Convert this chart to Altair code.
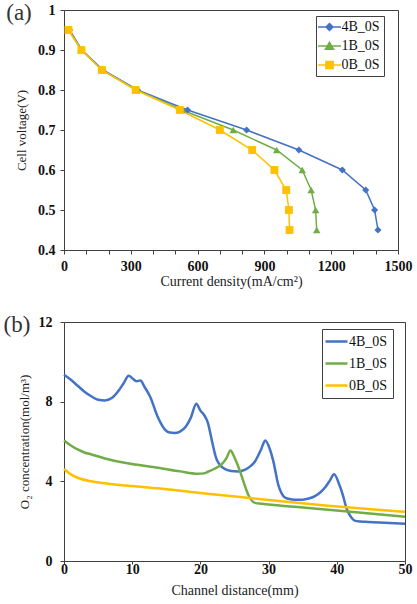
import altair as alt
import pandas as pd

# ---------------- data ----------------
series = ["4B_0S", "1B_0S", "0B_0S"]
colors = ["#4472C4", "#70AD47", "#FFC000"]
markers = ["diamond", "triangle-up", "square"]
marker_sizes = [50, 62, 55]

# panel (a): polarization curves
voltage = [0.95, 0.90, 0.85, 0.80, 0.75, 0.70, 0.65, 0.60, 0.55, 0.50, 0.45]
current_4b = [25, 80, 175, 330, 555, 820, 1055, 1250, 1355, 1395, 1410]
current_1b = [20, 78, 170, 325, 530, 760, 955, 1070, 1110, 1130, 1135]
current_0b = [20, 78, 170, 322, 520, 700, 845, 945, 998, 1010, 1013]

# panel (b): O2 concentration along the channel
dist_4b = [0, 1, 2, 3, 4, 5, 6, 7, 8, 8.7, 9.5, 10.1, 10.6, 11.2, 11.8, 12.6, 13.8,
           14.8, 15.5, 16.2, 17.0, 17.9, 18.6, 19.4, 20.0, 20.5, 21.1, 21.7, 22.3,
           23.3, 24.5, 25.5, 26.5, 27.3, 28.0, 28.9, 29.5, 30.2, 30.7, 31.4, 31.9,
           32.6, 33.8, 35.0, 36.0, 36.8, 37.6, 38.3, 39.0, 39.6, 40.4, 40.9, 41.4,
           42.0, 42.6, 43.5, 44.6, 47.0, 50.0]
conc_4b = [9.35, 9.1, 8.8, 8.5, 8.27, 8.1, 8.06, 8.18, 8.55, 8.9, 9.3, 9.15, 9.03,
           9.06, 8.75, 8.27, 7.19, 6.6, 6.45, 6.43, 6.5, 6.77, 7.2, 7.9, 7.55, 7.35,
           6.94, 6.02, 5.18, 4.68, 4.52, 4.5, 4.58, 4.75, 5.0, 5.6, 6.05, 5.6, 5.0,
           3.85, 3.4, 3.15, 3.08, 3.08, 3.15, 3.26, 3.45, 3.7, 4.05, 4.35, 3.8, 3.3,
           2.67, 2.25, 2.03, 1.98, 1.96, 1.92, 1.87]
dist_1b = [0, 1, 2, 3, 4, 6, 8.9, 11, 13.8, 17, 19.6, 20.5, 21.1, 22.0, 23.1, 23.8,
           24.4, 25.0, 25.8, 26.4, 27.0, 27.5, 28.0, 29.0, 33.8, 41.2, 50.0]
conc_1b = [6.05, 5.8, 5.6, 5.45, 5.35, 5.15, 4.93, 4.82, 4.68, 4.5, 4.38, 4.4, 4.48,
           4.62, 4.85, 5.15, 5.55, 5.2, 4.51, 3.9, 3.34, 3.05, 2.92, 2.87, 2.72, 2.5,
           2.22]
dist_0b = [0, 1, 2, 4, 6.5, 10, 13.8, 19, 24, 30, 38.7, 45, 50]
conc_0b = [4.62, 4.35, 4.18, 4.0, 3.88, 3.76, 3.65, 3.45, 3.28, 3.06, 2.78, 2.6, 2.47]

# ---------------- tables ----------------
rows_a = []
for name, cur in zip(series, [current_4b, current_1b, current_0b]):
    for c, v in zip(cur, voltage):
        rows_a.append({"series": name, "current": c, "voltage": v})
df_a = pd.DataFrame(rows_a)

rows_b = []
for name, ds, cs in zip(series, [dist_4b, dist_1b, dist_0b], [conc_4b, conc_1b, conc_0b]):
    for d, c in zip(ds, cs):
        rows_b.append({"series": name, "distance": d, "conc": c})
df_b = pd.DataFrame(rows_b)

TEXT_FONT = "Liberation Serif"
FRAME = "#404040"

# legend symbols for (a): line segment + marker
legend_paths = [
    "M-1.917,0H1.917M0,-0.58L0.58,0L0,0.58L-0.58,0Z",
    "M-1.917,0H1.917M0,-0.62L0.68,0.55L-0.68,0.55Z",
    "M-1.917,0H1.917M-0.6,-0.6H0.6V0.6H-0.6Z",
]
shape_expr = (f"datum.value === '{series[0]}' ? '{legend_paths[0]}' : "
              f"datum.value === '{series[1]}' ? '{legend_paths[1]}' : '{legend_paths[2]}'")
fill_expr = (f"datum.value === '{series[0]}' ? '{colors[0]}' : "
             f"datum.value === '{series[1]}' ? '{colors[1]}' : '{colors[2]}'")

legend_a = alt.Legend(
    title=None, orient="none", legendX=252, legendY=6, direction="vertical",
    strokeColor=FRAME, fillColor="white", padding=4,
    labelFont=TEXT_FONT, labelFontSize=14, labelColor="#111", labelOffset=5,
    symbolSize=144, symbolOffset=2.5, symbolStrokeWidth=1.5, rowPadding=5,
    symbolType=alt.ExprRef(expr=shape_expr),
    symbolFillColor=alt.ExprRef(expr=fill_expr),
)

x_a = alt.X("current:Q", scale=alt.Scale(domain=[0, 1500], nice=False, zero=False),
            axis=alt.Axis(values=list(range(0, 1501, 100)), format="d",
                          labelExpr="datum.value % 300 === 0 ? datum.label : ''",
                          title="Current density(mA/cm²)", labelPadding=5,
                          titlePadding=1))
y_a = alt.Y("voltage:Q", scale=alt.Scale(domain=[0.4, 1.0], nice=False, zero=False),
            axis=alt.Axis(values=[0.4, 0.5, 0.6, 0.7, 0.8, 0.9, 1.0], format="~g",
                          title="Cell voltage(V)", labelPadding=5, titlePadding=9,
                          titleFontSize=13))

lines_a = alt.Chart(df_a).mark_line(strokeWidth=1.5).encode(
    x=x_a, y=y_a,
    color=alt.Color("series:N", scale=alt.Scale(domain=series, range=colors),
                    legend=legend_a, sort=series),
)
points_a = alt.Chart(df_a).mark_point(filled=True, opacity=1, strokeWidth=0).encode(
    x=x_a, y=y_a,
    fill=alt.Fill("series:N", scale=alt.Scale(domain=series, range=colors), legend=None),
    shape=alt.Shape("series:N", scale=alt.Scale(domain=series, range=markers), legend=None),
    size=alt.Size("series:N", scale=alt.Scale(domain=series, range=marker_sizes), legend=None),
)
label_a = alt.Chart(pd.DataFrame({"t": ["(a)"]})).mark_text(
    font=TEXT_FONT, fontSize=23, align="center", baseline="middle", color="#333"
).encode(x=alt.value(-45), y=alt.value(3), text="t:N")

panel_a = alt.layer(lines_a, points_a, label_a).properties(width=334, height=240)

# ---------------- panel (b) ----------------
legend_b = alt.Legend(
    title=None, orient="none", legendX=258, legendY=7, direction="vertical",
    strokeColor=FRAME, fillColor="white", padding=5,
    labelFont=TEXT_FONT, labelFontSize=14, labelColor="#111", labelOffset=5,
    symbolType="M-1.833,0H1.833", symbolSize=144, symbolOffset=2,
    symbolStrokeWidth=2.5, rowPadding=7,
)
x_b = alt.X("distance:Q", scale=alt.Scale(domain=[0, 50], nice=False, zero=False),
            axis=alt.Axis(values=[0, 10, 20, 30, 40, 50], title="Channel distance(mm)",
                          tickSize=3, labelPadding=-2, titlePadding=7))
y_b = alt.Y("conc:Q", scale=alt.Scale(domain=[0, 12], nice=False, zero=False),
            axis=alt.Axis(values=[0, 4, 8, 12], title="O₂ concentration(mol/m³)",
                          labelPadding=8, titlePadding=6.5, titleFontSize=13))
lines_b = alt.Chart(df_b).mark_line(strokeWidth=2.5, interpolate="monotone").encode(
    x=x_b, y=y_b,
    color=alt.Color("series:N", scale=alt.Scale(domain=series, range=colors),
                    legend=legend_b, sort=series),
)
label_b = alt.Chart(pd.DataFrame({"t": ["(b)"]})).mark_text(
    font=TEXT_FONT, fontSize=23, align="center", baseline="middle", color="#333"
).encode(x=alt.value(-47), y=alt.value(3), text="t:N")

panel_b = alt.layer(lines_b, label_b).properties(width=341, height=239)

chart = (
    alt.vconcat(panel_a, panel_b, spacing=24)
    .resolve_scale(color="independent")
    .configure(padding={"left": 3, "top": 1, "right": 0, "bottom": 0}, background="white")
    .configure_view(stroke=FRAME, strokeWidth=1)
    .configure_axis(
        grid=False, domainColor=FRAME, tickColor=FRAME, tickSize=4, labelFlush=False,
        labelFont=TEXT_FONT, labelFontSize=14, labelFontWeight="bold", labelColor="#111",
        titleFont=TEXT_FONT, titleFontSize=14, titleFontWeight="normal", titleColor="#222",
    )
)

chart.save("out.html", embed_options={"renderer": "svg", "actions": False})
